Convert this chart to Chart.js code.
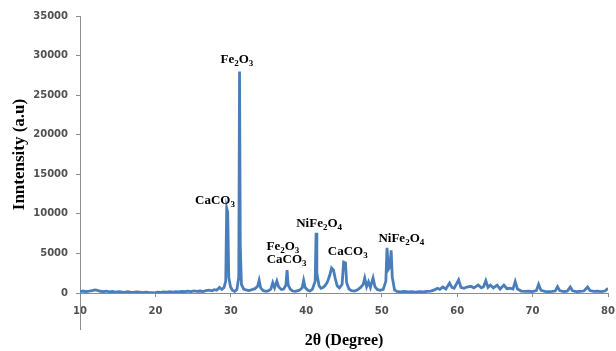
<!DOCTYPE html>
<html>
<head>
<meta charset="utf-8">
<script src="https://cdn.jsdelivr.net/npm/chart.js@4.4.1/dist/chart.umd.min.js"></script>
<style>
  html, body { margin: 0; padding: 0; background: #fff; }
  #wrap { width: 616px; height: 351px; }
</style>
</head>
<body>
<div id="wrap"><canvas id="xrd" width="616" height="351"></canvas></div>
<script>
// XRD pattern: 2-theta (deg) and intensity (a.u)
const twoTheta = [
  10.0, 10.4, 10.8, 11.2, 11.6, 12.0, 12.3, 12.7, 13.1, 13.5, 13.9, 14.3, 14.7, 15.1, 15.5, 15.9,
  16.3, 16.7, 17.1, 17.5, 17.9, 18.3, 18.7, 19.1, 19.5, 19.9, 20.3, 20.7, 21.1, 21.5, 21.9, 22.3,
  22.7, 23.1, 23.5, 23.9, 24.3, 24.7, 25.1, 25.5, 25.9, 26.3, 26.7, 27.1, 27.5, 27.8, 28.1, 28.5,
  28.8, 29.1, 29.32, 29.45, 29.58, 29.72, 29.95, 30.2, 30.5, 30.8, 31.05, 31.15, 31.25, 31.4, 31.7, 32.0,
  32.4, 32.8, 33.2, 33.55, 33.75, 33.95, 34.3, 34.7, 35.0, 35.3, 35.55, 35.8, 36.1, 36.35, 36.7, 37.0,
  37.3, 37.45, 37.6, 37.9, 38.2, 38.5, 38.8, 39.1, 39.45, 39.65, 39.85, 40.2, 40.5, 40.8, 41.18, 41.3,
  41.4, 41.7, 41.95, 42.2, 42.5, 42.8, 43.1, 43.35, 43.6, 43.85, 44.1, 44.4, 44.75, 44.95, 45.2, 45.35,
  45.65, 46.0, 46.4, 46.8, 47.2, 47.55, 47.75, 48.0, 48.25, 48.5, 48.85, 49.1, 49.4, 49.8, 50.2, 50.55,
  50.7, 50.9, 51.1, 51.25, 51.4, 51.7, 52.0, 52.5, 53.0, 53.5, 54.0, 54.5, 55.0, 55.5, 56.0, 56.5,
  57.0, 57.4, 57.7, 58.1, 58.5, 59.0, 59.3, 59.6, 60.2, 60.5, 60.9, 61.3, 61.8, 62.2, 62.8, 63.2,
  63.5, 63.8, 64.1, 64.4, 64.8, 65.3, 65.7, 66.2, 66.6, 67.0, 67.4, 67.7, 68.0, 68.5, 69.0, 69.5,
  70.0, 70.5, 70.8, 71.1, 71.6, 72.1, 72.6, 73.0, 73.3, 73.6, 74.1, 74.6, 75.0, 75.3, 75.8, 76.3,
  76.8, 77.3, 77.6, 78.1, 78.6, 79.1, 79.6, 80.0
];
const intensity = [
  180, 250, 170, 230, 300, 400, 330, 220, 170, 230, 150, 200, 120, 180, 130, 90,
  160, 110, 70, 140, 100, 60, 120, 80, 50, 20, 110, 80, 150, 100, 160, 120,
  180, 140, 210, 160, 230, 170, 260, 200, 250, 190, 300, 360, 280, 420, 350, 700,
  450, 700, 1500, 10700, 10200, 2000, 800, 350, 200, 450, 2000, 28000, 6000, 1100, 500, 380,
  300, 420, 550, 850, 1600, 650, 300, 220, 300, 500, 1300, 650, 1500, 750, 450, 500,
  1000, 2900, 1000, 450, 250, 200, 280, 350, 650, 1600, 700, 350, 250, 450, 1500, 7600,
  2500, 900, 600, 700, 950, 1400, 2200, 3150, 2900, 1800, 900, 650, 1100, 3900, 3800, 1300,
  500, 300, 250, 400, 700, 1100, 1900, 800, 1400, 700, 1900, 800, 450, 350, 450, 1500,
  5700, 3000, 3300, 5400, 2000, 400, 200, 150, 200, 130, 180, 120, 170, 130, 200, 250,
  400, 600, 450, 750, 500, 1250, 700, 600, 1650, 700, 600, 750, 850, 650, 1000, 650,
  800, 1550, 700, 1000, 650, 1000, 500, 1000, 550, 600, 500, 1450, 500, 250, 200, 220,
  180, 300, 1100, 350, 200, 160, 200, 250, 800, 300, 180, 240, 750, 280, 180, 210,
  250, 750, 300, 200, 230, 180, 250, 600
];

// y ticks 0..35000, x ticks 10..80
const yMax = 35000, yStep = 5000;
const xMin = 10, xMax = 80, xStep = 10;

// phase labels: text, anchor 2-theta, anchor intensity (text baseline, centred)
const annoText = ['Fe2O3', 'CaCO3', 'Fe2O3', 'CaCO3', 'NiFe2O4', 'CaCO3', 'NiFe2O4'];
const annoX    = [30.8,    27.9,    36.9,    37.4,    41.7,      45.5,    52.6];
const annoY    = [29000,   11300,   5400,    3750,    8300,      4750,    6400];

const points = twoTheta.map((t, i) => ({ x: t, y: intensity[i] }));

// draw chemical formulas with subscript digits
const phaseLabels = {
  id: 'phaseLabels',
  afterDatasetsDraw(chart) {
    const { ctx, scales: { x, y } } = chart;
    const big = 'bold 13px "Liberation Serif", "Times New Roman", serif';
    const small = 'bold 9px "Liberation Serif", "Times New Roman", serif';
    ctx.save();
    ctx.fillStyle = '#000';
    ctx.textBaseline = 'alphabetic';
    ctx.textAlign = 'left';
    annoText.forEach((txt, i) => {
      const parts = txt.match(/\d+|\D+/g);
      let w = 0;
      parts.forEach(p => { ctx.font = /\d/.test(p) ? small : big; w += ctx.measureText(p).width; });
      let cx = x.getPixelForValue(annoX[i]) - w / 2;
      const by = y.getPixelForValue(annoY[i]);
      parts.forEach(p => {
        const sub = /\d/.test(p);
        ctx.font = sub ? small : big;
        ctx.fillText(p, cx, sub ? by + 3 : by);
        cx += ctx.measureText(p).width;
      });
    });
    ctx.restore();
  }
};

// vertical axis line keeps going below the x labels, like the Excel original
const axisTail = {
  id: 'axisTail',
  afterDraw(chart) {
    const { ctx, chartArea } = chart;
    ctx.save();
    ctx.strokeStyle = '#8c8c8c';
    ctx.lineWidth = 1;
    ctx.beginPath();
    ctx.moveTo(chartArea.left + 0.5, chartArea.bottom);
    ctx.lineTo(chartArea.left + 0.5, chartArea.bottom + 37);
    ctx.stroke();
    ctx.restore();
  }
};

const tickFont = { family: '"DejaVu Sans", sans-serif', size: 10, weight: 'bold' };
const tickColor = '#505050';

new Chart(document.getElementById('xrd').getContext('2d'), {
  type: 'line',
  data: {
    datasets: [{
      data: points,
      borderColor: '#4a7ebb',
      borderWidth: 2.8,
      borderJoinStyle: 'miter',
      pointRadius: 0,
      tension: 0,
      fill: false
    }]
  },
  options: {
    responsive: false,
    animation: false,
    layout: { padding: { top: 16, right: 1, bottom: 0, left: 0 } },
    plugins: { legend: { display: false }, tooltip: { enabled: false } },
    scales: {
      x: {
        type: 'linear',
        min: xMin, max: xMax,
        afterFit(s) { s.height = 58; s.paddingRight = 8; },
        ticks: { stepSize: xStep, color: tickColor, font: tickFont, padding: 8, maxRotation: 0,
                 callback: v => String(v) },
        grid: { drawOnChartArea: false, drawTicks: true, tickLength: 4, color: '#8c8c8c' },
        border: { color: '#8c8c8c', width: 1 },
        title: {
          display: true, text: '2θ (Degree)', color: '#000',
          font: { family: '"Liberation Serif", "Times New Roman", serif', size: 16, weight: 'bold' },
          padding: { top: 0, bottom: 1 }
        }
      },
      y: {
        min: 0, max: yMax,
        afterFit(s) { s.width = 80; },
        ticks: { stepSize: yStep, color: tickColor, font: tickFont, padding: 8,
                 callback: v => String(v) },
        grid: { drawOnChartArea: false, drawTicks: true, tickLength: 4, color: '#8c8c8c' },
        border: { color: '#8c8c8c', width: 1 },
        title: {
          display: true, text: 'Inntensity (a.u)', color: '#000',
          font: { family: '"Liberation Serif", "Times New Roman", serif', size: 17, weight: 'bold' },
          padding: { top: 9, bottom: 0 }
        }
      }
    }
  },
  plugins: [phaseLabels, axisTail]
});
</script>
</body>
</html>
